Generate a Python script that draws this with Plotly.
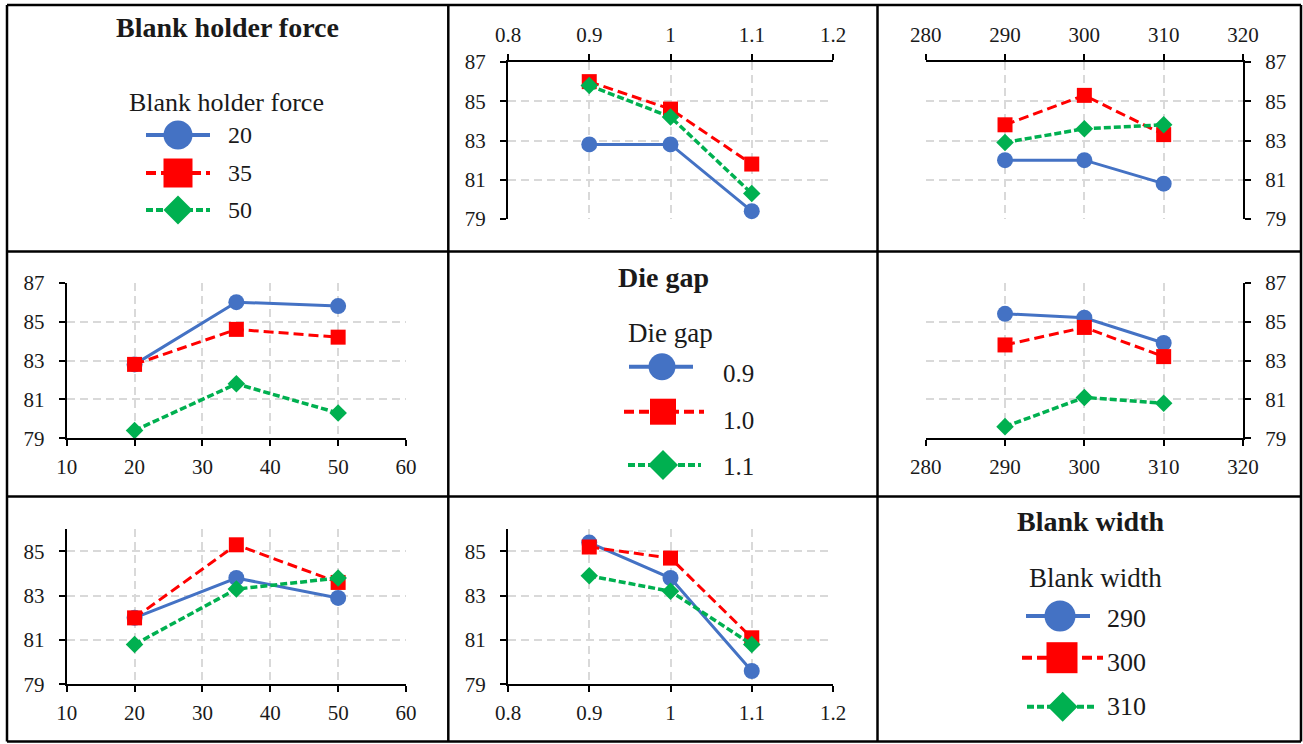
import plotly.graph_objects as go

W, H = 1303, 744

# Factor levels
bhf_levels = [20, 35, 50]
die_gap_levels = [0.9, 1.0, 1.1]
blank_width_levels = [290, 300, 310]

bhf_labels = ["20", "35", "50"]
gap_labels = ["0.9", "1.0", "1.1"]
width_labels = ["290", "300", "310"]

# Axis ticks
bhf_ticks = [10, 20, 30, 40, 50, 60]
gap_ticks = [0.8, 0.9, 1.0, 1.1, 1.2]
gap_tick_text = ["0.8", "0.9", "1", "1.1", "1.2"]
width_ticks = [280, 290, 300, 310, 320]
y_ticks_full = [79, 81, 83, 85, 87]
y_ticks_low = [79, 81, 83, 85]

# Mean response for each pair of factors (rows: first factor level, columns: second factor level)
bhf_gap = [[82.8, 82.8, 79.4],
           [86.0, 84.6, 81.8],
           [85.8, 84.2, 80.3]]
bhf_width = [[82.0, 82.0, 80.8],
             [83.8, 85.3, 83.3],
             [82.9, 83.6, 83.8]]
gap_width = [[85.4, 85.2, 83.9],
             [83.8, 84.7, 83.2],
             [79.6, 81.1, 80.8]]

FONT = "Liberation Serif"
TXT = "#1a1a1a"
BLUE, RED, GREEN = "#4472C4", "#FF0000", "#00B050"
styles = [
    dict(color=BLUE, dash="solid", symbol="circle", size=16, lw=3),
    dict(color=RED, dash="10px,5px", symbol="square", size=15, lw=3),
    dict(color=GREEN, dash="7px,3px", symbol="diamond", size=13.5, lw=3.5),
]


def fx(x):
    return x / W


def fy(y):
    return 1 - y / H


fig = go.Figure()


def add_series(idx, xs, ys, k):
    st = styles[k]
    ax = "" if idx == 1 else str(idx)
    fig.add_trace(go.Scatter(
        x=xs, y=ys, xaxis="x" + ax, yaxis="y" + ax, mode="lines+markers",
        line=dict(color=st["color"], width=st["lw"], dash=st["dash"]),
        marker=dict(symbol=st["symbol"], size=st["size"], color=st["color"],
                    line=dict(width=0)),
        showlegend=False, cliponaxis=False, hoverinfo="x+y"))


# Panel 1: die gap on x, one line per blank holder force
for i in range(3):
    add_series(1, die_gap_levels, bhf_gap[i], i)
# Panel 2: blank width on x, one line per blank holder force
for i in range(3):
    add_series(2, blank_width_levels, bhf_width[i], i)
# Panel 3: blank holder force on x, one line per die gap
for j in range(3):
    add_series(3, bhf_levels, [bhf_gap[i][j] for i in range(3)], j)
# Panel 4: blank width on x, one line per die gap
for j in range(3):
    add_series(4, blank_width_levels, gap_width[j], j)
# Panel 5: blank holder force on x, one line per blank width
for k in range(3):
    add_series(5, bhf_levels, [bhf_width[i][k] for i in range(3)], k)
# Panel 6: die gap on x, one line per blank width
for k in range(3):
    add_series(6, die_gap_levels, [gap_width[j][k] for j in range(3)], k)


def axis_common():
    return dict(
        showline=True, linecolor="black", linewidth=2,
        ticks="outside", ticklen=6, tickwidth=2, tickcolor="black",
        showgrid=True, gridcolor="#d9d9d9", gridwidth=1.5, griddash="8px,5px",
        zeroline=False, tickfont=dict(family=FONT, size=21, color=TXT),
        fixedrange=True, automargin=False,
    )


# pixel boxes of each plotting area: (left, right, top, bottom)
boxes = {
    1: (508, 833, 62, 219),
    2: (925.7, 1243, 62, 219),
    3: (66.7, 406, 282.7, 438.3),
    4: (925.7, 1243, 282.7, 438.3),
    5: (66.7, 406, 529.3, 684.3),
    6: (508, 833, 529.3, 684.3),
}
xcfg = {
    1: dict(range=[0.8, 1.2], tickvals=gap_ticks, ticktext=gap_tick_text, side="top"),
    2: dict(range=[280, 320], tickvals=width_ticks, side="top"),
    3: dict(range=[10, 60], tickvals=bhf_ticks, side="bottom"),
    4: dict(range=[280, 320], tickvals=width_ticks, side="bottom"),
    5: dict(range=[10, 60], tickvals=bhf_ticks, side="bottom"),
    6: dict(range=[0.8, 1.2], tickvals=gap_ticks, ticktext=gap_tick_text, side="bottom"),
}
ycfg = {
    1: dict(range=[79, 87], tickvals=y_ticks_full, side="left"),
    2: dict(range=[79, 87], tickvals=y_ticks_full, side="right"),
    3: dict(range=[79, 87], tickvals=y_ticks_full, side="left"),
    4: dict(range=[79, 87], tickvals=y_ticks_full, side="right"),
    5: dict(range=[79, 86], tickvals=y_ticks_low, side="left"),
    6: dict(range=[79, 86], tickvals=y_ticks_low, side="left"),
}

layout_axes = {}
for idx, (l, r, t, b) in boxes.items():
    s = "" if idx == 1 else str(idx)
    xa = axis_common()
    xa.update(xcfg[idx])
    standoff_x = 4 if xcfg[idx]["side"] == "top" else 2
    xa.update(domain=[fx(l), fx(r)], anchor="y" + s, ticklabelstandoff=standoff_x)
    ya = axis_common()
    ya.update(ycfg[idx])
    ya.update(domain=[fy(b), fy(t)], anchor="x" + s, ticklabelstandoff=10)
    layout_axes["xaxis" + s] = xa
    layout_axes["yaxis" + s] = ya

fig.update_layout(**layout_axes)

shapes = []
annotations = []

# Panel frame
frame_lw = 2.5
left, right, top, bottom = 7, 1301, 5, 741.5
for xv in (left, 448.3, 877.5, right):
    shapes.append(dict(type="line", xref="paper", yref="paper",
                       x0=fx(xv), x1=fx(xv), y0=fy(top), y1=fy(bottom),
                       line=dict(color="black", width=frame_lw)))
for yv in (top, 251.5, 496.5, bottom):
    shapes.append(dict(type="line", xref="paper", yref="paper",
                       x0=fx(left), x1=fx(right), y0=fy(yv), y1=fy(yv),
                       line=dict(color="black", width=frame_lw)))


def text(x, y, s, size, bold=False, anchor="center"):
    annotations.append(dict(
        xref="paper", yref="paper", x=fx(x), y=fy(y), text=f"<b>{s}</b>" if bold else s,
        showarrow=False, xanchor=anchor, yanchor="middle",
        font=dict(family=FONT, size=size, color=TXT)))


def glyph(k, x0, x1, cx, cy, msize):
    st = styles[k]
    shapes.append(dict(type="line", xref="paper", yref="paper",
                       x0=fx(x0), x1=fx(x1), y0=fy(cy), y1=fy(cy),
                       line=dict(color=st["color"], width=4, dash=st["dash"])))
    h = msize / 2
    if st["symbol"] == "circle":
        shapes.append(dict(type="circle", xref="paper", yref="paper",
                           x0=fx(cx - h), x1=fx(cx + h), y0=fy(cy + h), y1=fy(cy - h),
                           fillcolor=st["color"], line=dict(width=0)))
    elif st["symbol"] == "square":
        shapes.append(dict(type="rect", xref="paper", yref="paper",
                           x0=fx(cx - h), x1=fx(cx + h), y0=fy(cy + h), y1=fy(cy - h),
                           fillcolor=st["color"], line=dict(width=0)))
    else:
        path = (f"M{fx(cx - h)},{fy(cy)} L{fx(cx)},{fy(cy - h)} "
                f"L{fx(cx + h)},{fy(cy)} L{fx(cx)},{fy(cy + h)} Z")
        shapes.append(dict(type="path", xref="paper", yref="paper", path=path,
                           fillcolor=st["color"], line=dict(width=0)))


# Legend: blank holder force
text(227.5, 28, "Blank holder force", 28, bold=True)
text(226, 103, "Blank holder force", 26)
for k, (cy, ly) in enumerate([(135, 135), (173, 173), (210, 210)]):
    glyph(k, 146, 210, 178, cy, 29)
    text(226, ly, bhf_labels[k], 24, anchor="left")

# Legend: die gap
text(663, 277, "Die gap", 28, bold=True)
text(671, 333, "Die gap", 27)
die_rows = [(629, 693, 662, 366.7, 27, 373), (624, 704, 663, 411.7, 26, 420),
            (628, 701, 663, 465, 30, 466.7)]
for k, (x0, x1, cx, cy, ms, ly) in enumerate(die_rows):
    glyph(k, x0, x1, cx, cy, ms)
    text(721, ly, gap_labels[k], 25, anchor="left")

# Legend: blank width
text(1090, 521.7, "Blank width", 28, bold=True)
text(1095, 578, "Blank width", 27)
width_rows = [(1026, 1090, 1060, 616, 31, 618), (1022, 1103, 1062, 657.7, 31, 662.7),
              (1027, 1095, 1062.7, 706.7, 30, 706)]
for k, (x0, x1, cx, cy, ms, ly) in enumerate(width_rows):
    glyph(k, x0, x1, cx, cy, ms)
    text(1105, ly, width_labels[k], 26, anchor="left")

fig.update_layout(
    width=W, height=H,
    margin=dict(l=0, r=0, t=0, b=0, pad=0, autoexpand=False),
    paper_bgcolor="white", plot_bgcolor="white",
    shapes=shapes, annotations=annotations, showlegend=False,
    font=dict(family=FONT, color=TXT),
)

fig.write_html("out.html", config={"displayModeBar": False})
